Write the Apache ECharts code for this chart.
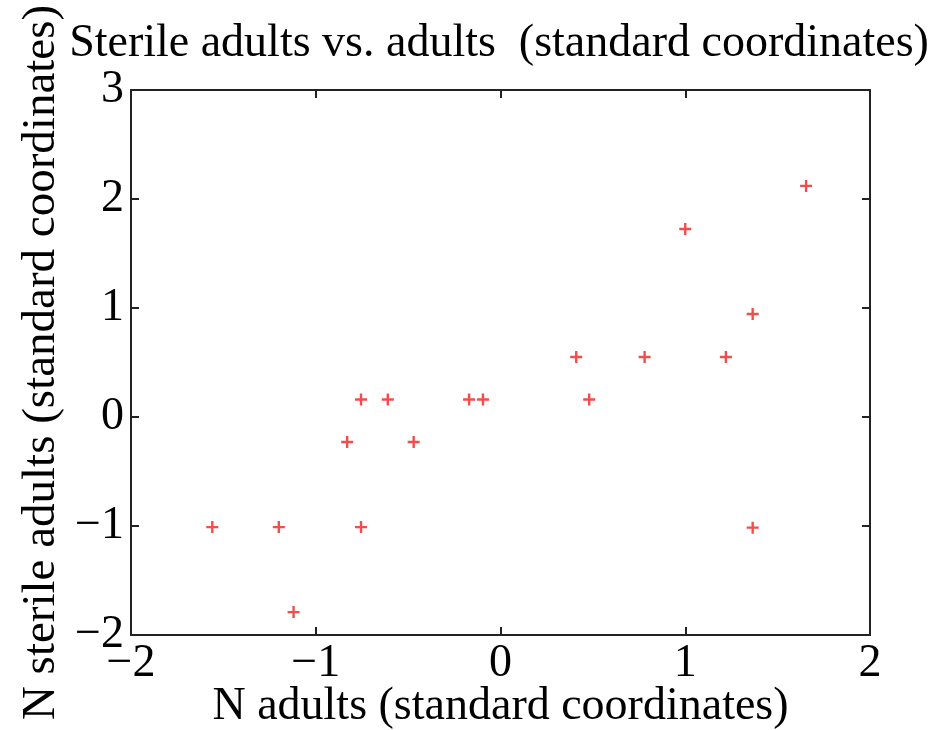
<!DOCTYPE html>
<html><head><meta charset="utf-8">
<script src="https://cdn.jsdelivr.net/npm/echarts@6/dist/echarts.min.js"></script>
<style>html,body{margin:0;padding:0;background:#fff}#c{width:941px;height:730px}</style>
</head><body><div id="c"></div>
<script>
const xValues = [-1.56, -1.20, -1.12, -0.83, -0.755, -0.755, -0.61, -0.47, -0.17, -0.095, 0.41, 0.48, 0.78, 1.00, 1.22, 1.365, 1.365, 1.654];
const yValues = [-1.01, -1.01, -1.79, -0.23, 0.16, -1.01, 0.16, -0.23, 0.16, 0.16, 0.55, 0.16, 0.55, 1.725, 0.55, 0.945, -1.015, 2.12];
const titleText = 'Sterile adults vs. adults  (standard coordinates)';
const xName = 'N adults (standard coordinates)';
const yName = 'N sterile adults (standard coordinates)';

const pts = xValues.map((x, i) => [x, yValues[i]]);
const font = '"Liberation Serif", "DejaVu Serif", serif';
const minus = v => (v < 0 ? '\u2212' + Math.abs(v) : String(v));
const chart = echarts.init(document.getElementById('c'));
const axLine = {show: true, onZero: false, lineStyle: {color: '#222', width: 2}};
const ticks = {show: true, inside: true, length: 8, lineStyle: {color: '#222', width: 2}};
chart.setOption({
  backgroundColor: '#fff',
  animation: false,
  title: {text: titleText, left: 494, top: 16, textAlign: 'center',
    textStyle: {fontFamily: font, fontSize: 46, fontWeight: 'normal', color: '#000'}},
  grid: {left: 131, right: 71, top: 90, bottom: 95, containLabel: false, outerBoundsMode: 'none'},
  xAxis: [{
    type: 'value', min: -2, max: 2, interval: 1, position: 'bottom',
    name: xName, nameLocation: 'middle', nameGap: 49, nameMoveOverlap: false,
    nameTextStyle: {fontFamily: font, fontSize: 46, color: '#000'},
    axisLine: axLine, axisTick: ticks, splitLine: {show: false},
    axisLabel: {fontFamily: font, fontSize: 46, color: '#000', margin: 6, formatter: minus}
  }, {
    type: 'value', min: -2, max: 2, interval: 1, position: 'top',
    axisLine: axLine, axisTick: ticks, splitLine: {show: false}, axisLabel: {show: false}
  }],
  yAxis: [{
    type: 'value', min: -2, max: 3, interval: 1, position: 'left',
    name: yName, nameLocation: 'middle', nameGap: 66, nameMoveOverlap: false,
    nameTextStyle: {fontFamily: font, fontSize: 47, color: '#000'},
    axisLine: axLine, axisTick: ticks, splitLine: {show: false},
    axisLabel: {fontFamily: font, fontSize: 46, color: '#000', margin: 7, formatter: minus}
  }, {
    type: 'value', min: -2, max: 3, interval: 1, position: 'right',
    axisLine: axLine, axisTick: ticks, splitLine: {show: false}, axisLabel: {show: false}
  }],
  series: [{
    type: 'scatter', data: pts, xAxisIndex: 0, yAxisIndex: 0,
    symbol: 'path://M4,0 L6,0 L6,4 L10,4 L10,6 L6,6 L6,10 L4,10 L4,6 L0,6 L0,4 L4,4 Z',
    symbolSize: 12,
    itemStyle: {color: '#ee3b37', opacity: 0.9}
  }]
});
</script></body></html>
